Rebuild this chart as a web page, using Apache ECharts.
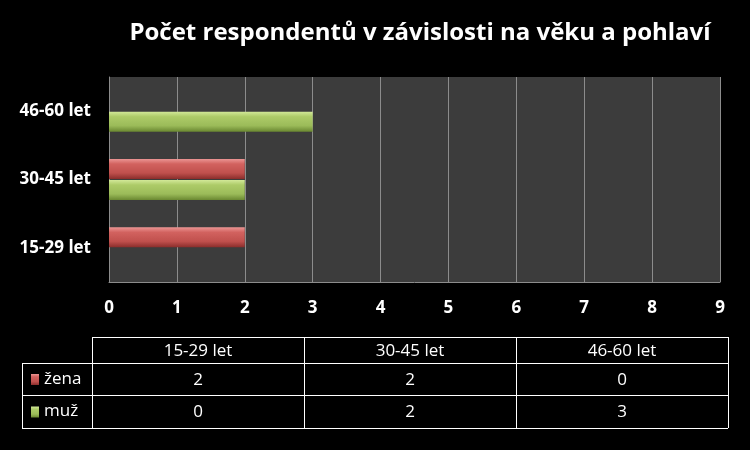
<!DOCTYPE html>
<html><head><meta charset="utf-8">
<script src="https://cdn.jsdelivr.net/npm/echarts@6/dist/echarts.min.js"></script>
<style>html,body{margin:0;padding:0;background:#000;}#c{width:750px;height:450px;}</style>
</head><body><div id="c"></div>
<script>
var titleText = 'Počet respondentů v závislosti na věku a pohlaví';
var categories = ['15-29 let', '30-45 let', '46-60 let'];
var seriesNames = ['žena', 'muž'];
var zenaValues = [2, 2, 0];
var muzValues = [0, 2, 3];
var xTicks = [0, 1, 2, 3, 4, 5, 6, 7, 8, 9];

var FONT = '"Open Sans", "Noto Sans", sans-serif';
function grad(c0, c1, c2, c3) {
  return new echarts.graphic.LinearGradient(0, 0, 0, 1, [
    {offset: 0, color: c0}, {offset: 0.25, color: c1}, {offset: 0.7, color: c2}, {offset: 1, color: c3}
  ]);
}
var redGrad = grad('#eb9593', '#d2625f', '#c0504d', '#8a2d2b');
var greenGrad = grad('#d2e898', '#adcb68', '#9bbb59', '#6a8831');

// table geometry
var colX = [92, 304, 516, 728];
var legX = 22;
var rowY = [337, 363, 395, 428];
var graphics = [];
var lineStyle = {stroke: '#ffffff', lineWidth: 1};
function hline(x1, x2, y) { graphics.push({type: 'line', shape: {x1: x1, y1: y + 0.5, x2: x2, y2: y + 0.5}, style: lineStyle, silent: true}); }
function vline(x, y1, y2) { graphics.push({type: 'line', shape: {x1: x + 0.5, y1: y1, x2: x + 0.5, y2: y2}, style: lineStyle, silent: true}); }
hline(colX[0], colX[3], rowY[0]);
hline(legX, colX[3], rowY[1]);
hline(legX, colX[3], rowY[2]);
hline(legX, colX[3], rowY[3]);
colX.forEach(function (x) { vline(x, rowY[0], rowY[3]); });
vline(legX, rowY[1], rowY[3]);
categories.forEach(function (c, i) {
  graphics.push({type: 'text', x: (colX[i] + colX[i + 1]) / 2, y: (rowY[0] + rowY[1]) / 2 + 1,
    style: {text: c, fill: '#fff', font: '17px ' + FONT, textAlign: 'center', textVerticalAlign: 'middle'}});
});
var tableRows = [zenaValues, muzValues];
var markGrads = [redGrad, greenGrad];
tableRows.forEach(function (vals, r) {
  var cy = (rowY[r + 1] + rowY[r + 2]) / 2 + 1;
  graphics.push({type: 'rect', shape: {x: 31, y: cy - 6, width: 8, height: 11}, style: {fill: markGrads[r]}});
  graphics.push({type: 'text', x: 44, y: cy - 1,
    style: {text: seriesNames[r], fill: '#fff', font: '17px ' + FONT, textAlign: 'left', textVerticalAlign: 'middle'}});
  vals.forEach(function (v, i) {
    graphics.push({type: 'text', x: (colX[i] + colX[i + 1]) / 2, y: cy,
      style: {text: String(v), fill: '#fff', font: '17px ' + FONT, textAlign: 'center', textVerticalAlign: 'middle'}});
  });
});

var chart = echarts.init(document.getElementById('c'));
chart.setOption({
  backgroundColor: '#000000',
  animation: false,
  title: {text: titleText, left: 415, top: 16, textAlign: 'center',
    textStyle: {color: '#fff', fontSize: 24, fontWeight: 'bold', fontFamily: FONT}},
  grid: {left: 109, right: 30, top: 77, bottom: 168, show: true, backgroundColor: '#3c3c3c', borderWidth: 0},
  xAxis: {type: 'value', min: xTicks[0], max: xTicks[xTicks.length - 1], interval: 1,
    axisLine: {show: true, lineStyle: {color: '#8c8c8c'}}, axisTick: {show: false},
    splitLine: {show: true, lineStyle: {color: '#8c8c8c', width: 1}},
    axisLabel: {color: '#fff', fontSize: 17, fontWeight: 'bold', fontFamily: FONT, margin: 18}},
  yAxis: {type: 'category', data: categories,
    axisLine: {show: true, lineStyle: {color: '#8c8c8c'}}, axisTick: {show: false},
    axisLabel: {color: '#fff', fontSize: 17, fontWeight: 'bold', fontFamily: FONT, margin: 18}},
  series: [
    {name: seriesNames[0], type: 'bar', data: zenaValues, barWidth: 20, barGap: '5%',
      itemStyle: {color: redGrad}},
    {name: seriesNames[1], type: 'bar', data: muzValues, barWidth: 20, barGap: '5%',
      itemStyle: {color: greenGrad}}
  ],
  graphic: graphics
});
</script></body></html>
